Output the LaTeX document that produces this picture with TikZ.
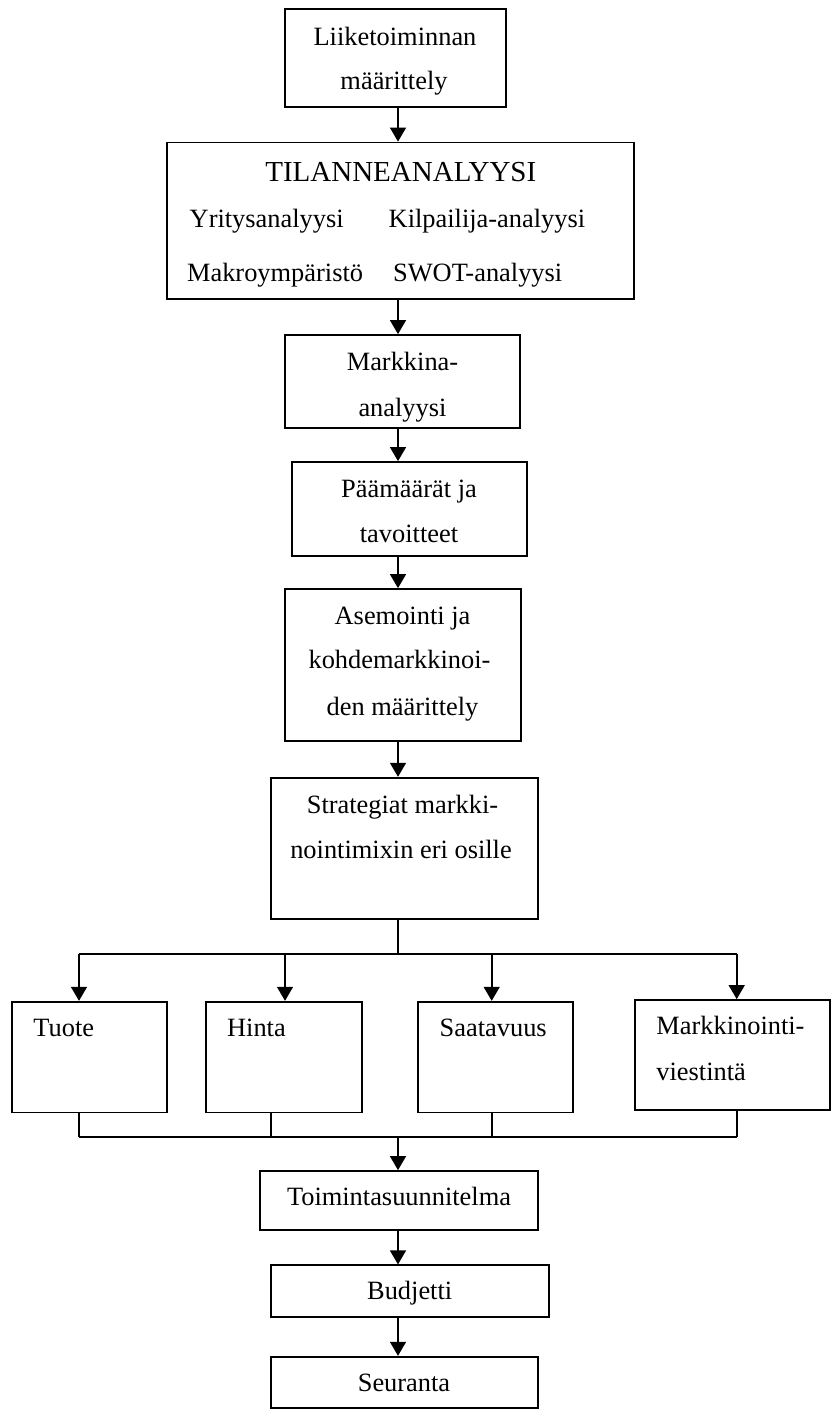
\documentclass[tikz,border=0pt]{standalone}
\usepackage{fontspec}
\setmainfont{Liberation Serif}
\usetikzlibrary{arrows.meta,fit}
\tikzset{
  box/.style={draw, line width=0.85pt, inner sep=0pt, rectangle},
  txt/.style={font=\fontsize{13.2}{15}\selectfont, inner sep=0pt, anchor=base},
  ltxt/.style={txt, anchor=base west},
  title/.style={font=\fontsize{14.5}{17}\selectfont, inner sep=0pt, anchor=base},
  arr/.style={line width=1pt, -{Triangle[length=7pt,width=7.9pt]}},
  wire/.style={line width=0.8pt},
}
\begin{document}
\begin{tikzpicture}[x=0.5pt,y=-0.5pt]
\useasboundingbox (0,0) rectangle (832,1410);

% main column of boxes
\node[box, fit={(285,9) (505.7,107)}] (b1) {};
\node[box, fit={(166.7,142.5) (634.3,299)}] (b2) {};
\node[box, fit={(285,335) (520,428)}] (b3) {};
\node[box, fit={(291.7,462) (527,555.7)}] (b4) {};
\node[box, fit={(285,589) (520.7,740.7)}] (b5) {};
\node[box, fit={(271,777.7) (538.3,919)}] (b6) {};

% marketing mix boxes
\node[box, fit={(11.7,1001.7) (167.3,1112.5)}] (p1) {};
\node[box, fit={(205.7,1001.7) (361.7,1112.5)}] (p2) {};
\node[box, fit={(418.3,1001.7) (573.3,1112.5)}] (p3) {};
\node[box, fit={(635,1000) (830.3,1110)}] (p4) {};

% lower column
\node[box, fit={(260,1171) (538.3,1230)}] (b7) {};
\node[box, fit={(270.7,1265.3) (549.3,1317.3)}] (b8) {};
\node[box, fit={(271,1356.7) (538.3,1408.3)}] (b9) {};

% texts
\node[txt] (t1a) at (395,45) {Liiketoiminnan};
\node[txt] (t1b) at (394,89.3) {määrittely};

\node[title] (t2a) at (400.8,181.7) {TILANNEANALYYSI};
\node[ltxt] (t2b) at (189.3,227.3) {Yritysanalyysi};
\node[ltxt] (t2c) at (388.3,227.3) {Kilpailija-analyysi};
\node[ltxt] (t2d) at (186.7,281.7) {Makroympäristö};
\node[ltxt] (t2e) at (392.7,281.7) {SWOT-analyysi};

\node[txt] (t3a) at (402.5,370.7) {Markkina-};
\node[txt] (t3b) at (402.5,416) {analyysi};

\node[txt] (t4a) at (409,497.3) {Päämäärät ja};
\node[txt] (t4b) at (409,542.3) {tavoitteet};

\node[txt] (t5a) at (402.5,624) {Asemointi ja};
\node[txt] (t5b) at (399.5,668.3) {kohdemarkkinoi-};
\node[txt] (t5c) at (402.5,715) {den määrittely};

\node[txt] (t6a) at (402.5,813.3) {Strategiat markki-};
\node[txt] (t6b) at (401,858) {nointimixin eri osille};

\node[ltxt] (tp1) at (33,1036.7) {Tuote};
\node[ltxt] (tp2) at (226.7,1036.7) {Hinta};
\node[ltxt] (tp3) at (439.3,1036.7) {Saatavuus};
\node[ltxt] (tp4a) at (656,1034) {Markkinointi-};
\node[ltxt] (tp4b) at (656,1080.7) {viestintä};

\node[txt] (t7) at (399,1205.7) {Toimintasuunnitelma};
\node[txt] (t8) at (409.7,1299) {Budjetti};
\node[txt] (t9) at (404,1391.7) {Seuranta};

% connector positions
\coordinate (spine) at (398,0);
\coordinate (split) at (398,954);
\coordinate (s1) at (79,954);
\coordinate (s2) at (285,954);
\coordinate (s3) at (491.7,954);
\coordinate (s4) at (736.7,954);
\coordinate (join) at (398,1136.7);
\coordinate (j1) at (79,1136.7);
\coordinate (j2) at (271,1136.7);
\coordinate (j3) at (491.7,1136.7);
\coordinate (j4) at (736.7,1136.7);

% arrows down the main column
\draw[arr] (b1.south -| spine) -- (b2.north -| spine);
\draw[arr] (b2.south -| spine) -- (b3.north -| spine);
\draw[arr] (b3.south -| spine) -- (b4.north -| spine);
\draw[arr] (b4.south -| spine) -- (b5.north -| spine);
\draw[arr] (b5.south -| spine) -- (b6.north -| spine);

% split into the four parts of the mix
\draw[wire] (b6.south -| split) -- (split);
\draw[wire] (s1) -- (s4);
\draw[arr] (s1) -- (p1.north -| s1);
\draw[arr] (s2) -- (p2.north -| s2);
\draw[arr] (s3) -- (p3.north -| s3);
\draw[arr] (s4) -- (p4.north -| s4);

% join back together
\draw[wire] (p1.south -| j1) -- (j1);
\draw[wire] (p2.south -| j2) -- (j2);
\draw[wire] (p3.south -| j3) -- (j3);
\draw[wire] (p4.south -| j4) -- (j4);
\draw[wire] (j1) -- (j4);

% lower column
\draw[arr] (join) -- (b7.north -| join);
\draw[arr] (b7.south -| spine) -- (b8.north -| spine);
\draw[arr] (b8.south -| spine) -- (b9.north -| spine);
\end{tikzpicture}
\end{document}
